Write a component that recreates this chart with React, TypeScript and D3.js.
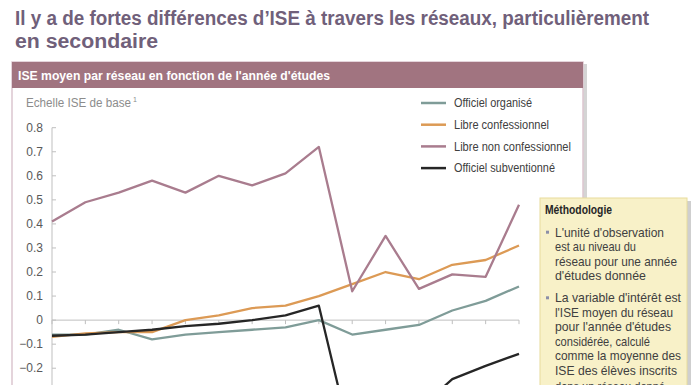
import React, { useEffect, useRef } from "react";
import * as d3 from "d3";

// années d'études (maternel, primaire, secondaire)
const years = ["M1", "M2", "M3", "P1", "P2", "P3", "P4", "P5", "P6", "S1", "S2", "S3", "S4", "S5", "S6"];

const officielOrganise = [-0.06, -0.06, -0.04, -0.08, -0.06, -0.05, -0.04, -0.03, 0.0, -0.06, -0.04, -0.02, 0.04, 0.08, 0.14];
const libreConfessionnel = [-0.07, -0.055, -0.05, -0.05, 0.0, 0.02, 0.05, 0.06, 0.1, 0.15, 0.2, 0.17, 0.23, 0.25, 0.31];
const libreNonConfessionnel = [0.41, 0.49, 0.53, 0.58, 0.53, 0.6, 0.56, 0.61, 0.72, 0.12, 0.35, 0.13, 0.19, 0.18, 0.48];
const officielSubventionne = [-0.065, -0.06, -0.05, -0.04, -0.025, -0.015, 0.0, 0.02, 0.06, -0.52, -0.5, -0.37, -0.245, -0.19, -0.14];

const seriesNames = ["Officiel organisé", "Libre confessionnel", "Libre non confessionnel", "Officiel subventionné"];
const seriesColors = ["#7f9c98", "#dc9a55", "#a97c8e", "#262626"];

// only the ticks visible in the cropped picture
const yTicks = [-0.2, -0.1, 0, 0.1, 0.2, 0.3, 0.4, 0.5, 0.6, 0.7, 0.8];

const titleLines = ["Il y a de fortes différences d’ISE à travers les réseaux, particulièrement", "en secondaire"];
const methodoBullets = [
  ["L'unité d'observation", "est au niveau du", "réseau pour une année", "d'études donnée"],
  ["La variable d'intérêt est", "l'ISE moyen du réseau", "pour l'année d'études", "considérée, calculé", "comme la moyenne des", "ISE des élèves inscrits", "dans un réseau donné"],
];

const NARROW = "'Liberation Sans Narrow', 'Arial Narrow', 'Liberation Sans', Arial, sans-serif";
const SANS = "'Liberation Sans', Arial, sans-serif";

const App: React.FC = () => {
  const svgRef = useRef<SVGSVGElement>(null);
  const width = 696;
  const height = 385;

  useEffect(() => {
    if (!svgRef.current) return;
    const svg = d3.select(svgRef.current);
    svg.selectAll("*").remove();

    svg.append("rect").attr("width", width).attr("height", height).attr("fill", "#ffffff");

    // Title
    const titleWidths = [634, 143];
    titleLines.forEach((t, i) => {
      svg
        .append("text")
        .attr("x", 15)
        .attr("y", 25 + i * 23)
        .attr("textLength", titleWidths[i])
        .attr("lengthAdjust", "spacingAndGlyphs")
        .style("font-family", NARROW)
        .style("font-size", "20px")
        .style("font-weight", "bold")
        .style("fill", "#70607a")
        .text(t);
    });

    // Chart box
    svg.append("rect").attr("x", 583).attr("y", 64).attr("width", 4).attr("height", 140).attr("fill", "#d4d4d4");
    svg.append("rect").attr("x", 12).attr("y", 62).attr("width", 571).attr("height", 340)
      .attr("fill", "#ffffff").attr("stroke", "#dcc6cf").attr("stroke-width", 1.5);
    svg.append("rect").attr("x", 12).attr("y", 62).attr("width", 571).attr("height", 26).attr("fill", "#a17480");
    svg.append("text")
      .attr("x", 18).attr("y", 80)
      .attr("textLength", 312).attr("lengthAdjust", "spacingAndGlyphs")
      .style("font-family", NARROW).style("font-size", "12.5px").style("font-weight", "bold")
      .style("fill", "#ffffff")
      .text("ISE moyen par réseau en fonction de l'année d'études");

    // Axis title
    svg.append("text")
      .attr("x", 26).attr("y", 107)
      .attr("textLength", 105).attr("lengthAdjust", "spacingAndGlyphs")
      .style("font-family", NARROW).style("font-size", "12px").style("fill", "#8c8c8c")
      .text("Echelle ISE de base");
    svg.append("text")
      .attr("x", 133).attr("y", 102)
      .style("font-family", SANS).style("font-size", "7px").style("fill", "#8c8c8c")
      .text("1");

    // Scales
    const x = d3.scalePoint<string>().domain(years).range([52, 519]);
    const y = d3.scaleLinear().domain([-0.7, 0.8]).range([488.5, 127.7]);

    const g = svg.append("g");

    // Y axis
    g.append("line").attr("x1", 52).attr("x2", 52).attr("y1", y(0.8)).attr("y2", y(-0.7))
      .attr("stroke", "#bfbfbf").attr("stroke-width", 1);
    yTicks.forEach((v) => {
      g.append("line").attr("x1", 52).attr("x2", 56).attr("y1", y(v)).attr("y2", y(v))
        .attr("stroke", "#bfbfbf");
      g.append("text")
        .attr("x", 43).attr("y", y(v)).attr("dy", "0.35em")
        .attr("text-anchor", "end")
        .style("font-family", SANS).style("font-size", "12px").style("fill", "#595959")
        .text(v === 0 ? "0" : d3.format(".1f")(v));
    });

    // X axis at zero
    g.append("line").attr("x1", 52).attr("x2", 519).attr("y1", y(0)).attr("y2", y(0))
      .attr("stroke", "#bfbfbf").attr("stroke-width", 1);
    years.forEach((yr) => {
      g.append("line").attr("x1", x(yr)!).attr("x2", x(yr)!).attr("y1", y(0)).attr("y2", y(0) + 4)
        .attr("stroke", "#bfbfbf");
    });

    // Lines
    const allSeries = [officielOrganise, libreConfessionnel, libreNonConfessionnel, officielSubventionne];
    const line = d3.line<number>()
      .x((_, i) => x(years[i])!)
      .y((d) => y(d));
    allSeries.forEach((s, i) => {
      g.append("path")
        .datum(s)
        .attr("d", line)
        .attr("fill", "none")
        .attr("stroke", seriesColors[i])
        .attr("stroke-width", 2.3)
        .attr("stroke-linejoin", "round");
    });

    // Legend
    const legendWidths = [78, 95, 117, 101];
    seriesNames.forEach((name, i) => {
      const ly = 103 + i * 21.7;
      svg.append("line").attr("x1", 421).attr("x2", 446).attr("y1", ly).attr("y2", ly)
        .attr("stroke", seriesColors[i]).attr("stroke-width", 2.5);
      svg.append("text")
        .attr("x", 454).attr("y", ly).attr("dy", "0.35em")
        .attr("textLength", legendWidths[i]).attr("lengthAdjust", "spacingAndGlyphs")
        .style("font-family", NARROW).style("font-size", "12px").style("fill", "#404040")
        .text(name);
    });

    // Méthodologie box
    svg.append("rect").attr("x", 543).attr("y", 201).attr("width", 148).attr("height", 200).attr("fill", "#cfcfcf");
    svg.append("rect").attr("x", 540).attr("y", 198).attr("width", 147).attr("height", 200)
      .attr("fill", "#f8f1c8").attr("stroke", "#e8dc9c").attr("stroke-width", 1);
    svg.append("text")
      .attr("x", 545).attr("y", 214)
      .attr("textLength", 67).attr("lengthAdjust", "spacingAndGlyphs")
      .style("font-family", SANS).style("font-size", "12px").style("font-weight", "bold").style("fill", "#262626")
      .text("Méthodologie");

    const lineWidths = [
      [109, 81, 122, 91],
      [126, 118, 116, 95, 126, 122, 110],
    ];
    let by = 236.7;
    methodoBullets.forEach((lines, bi) => {
      svg.append("rect").attr("x", 546).attr("y", by - 6).attr("width", 3).attr("height", 3).attr("fill", "#8c8fa8");
      lines.forEach((l, li) => {
        svg.append("text")
          .attr("x", 555).attr("y", li === 6 ? by + 2 : by)
          .attr("textLength", lineWidths[bi][li]).attr("lengthAdjust", "spacingAndGlyphs")
          .style("font-family", NARROW).style("font-size", "13px").style("fill", "#404040")
          .text(l);
        by += 14.5;
      });
      by += 7.6;
    });
  }, []);

  return (
    <svg
      ref={svgRef}
      width={width}
      height={height}
      style={{ position: "absolute", left: 0, top: 0, display: "block" }}
    />
  );
};

export default App;
